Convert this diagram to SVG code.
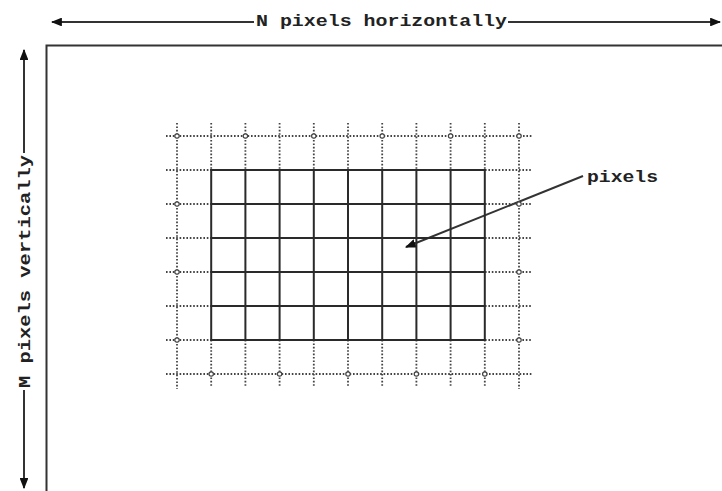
<svg xmlns="http://www.w3.org/2000/svg" width="722" height="491" viewBox="0 0 722 491">
<style>
.t{font-family:"Liberation Mono","Courier New",monospace;font-size:17px;font-weight:bold;fill:#222}
.dim{stroke:#333;stroke-width:2;fill:none}
.solid{stroke:#2a2a2a;stroke-width:2;fill:none}
.dot{stroke:#444;stroke-width:1.8;stroke-dasharray:1.6 1.8;fill:none}
.c{fill:#fff;stroke:#444;stroke-width:1.2}
</style>
<defs>
<marker id="ah" viewBox="0 0 10 8" refX="9" refY="4" markerWidth="5.5" markerHeight="4.4" orient="auto" markerUnits="strokeWidth">
<path d="M0,0 L10,4 L0,8 Z" fill="#111"/>
</marker>
</defs>
<rect width="722" height="491" fill="#fff"/>
<g id="frame">
<path class="dim" d="M46.5,491 V45.5 H730"/>
</g>
<g id="connectors">
<line class="dim" x1="254" y1="22" x2="52" y2="22" marker-end="url(#ah)"/>
<line class="dim" x1="508" y1="22" x2="720" y2="22" marker-end="url(#ah)"/>
<line class="dim" x1="24" y1="153" x2="24" y2="50" marker-end="url(#ah)"/>
<line class="dim" x1="24" y1="390" x2="24" y2="488" marker-end="url(#ah)"/>
<line class="dim" x1="583" y1="176" x2="406" y2="247" marker-end="url(#ah)"/>
</g>
<g id="label-horizontal">
<text class="t" x="256" y="26" textLength="251" lengthAdjust="spacingAndGlyphs">N pixels horizontally</text>
</g>
<g id="label-vertical">
<text class="t" transform="translate(30,388) rotate(-90)" x="0" y="0" textLength="233" lengthAdjust="spacingAndGlyphs">M pixels vertically</text>
</g>
<g id="label-pixels">
<text class="t" x="587" y="182" textLength="71" lengthAdjust="spacingAndGlyphs">pixels</text>
</g>
<g id="dotted-grid">
<path class="dot" d="M177,123 V389 M519,123 V389
M211.2,123 V170 M245.4,123 V170 M279.6,123 V170 M313.8,123 V170 M348,123 V170 M382.2,123 V170 M416.4,123 V170 M450.6,123 V170 M484.8,123 V170
M211.2,340 V386 M245.4,340 V386 M279.6,340 V386 M313.8,340 V386 M348,340 V386 M382.2,340 V386 M416.4,340 V386 M450.6,340 V386 M484.8,340 V386
M166,136 H532 M166,374 H532
M166,170 H211 M166,204 H211 M166,238 H211 M166,272 H211 M166,306 H211 M166,340 H211
M485,170 H532 M485,204 H532 M485,238 H532 M485,272 H532 M485,306 H532 M485,340 H532"/>
<g>
<circle class="c" cx="177" cy="136" r="2.2"/>
<circle class="c" cx="245.4" cy="136" r="2.2"/>
<circle class="c" cx="313.8" cy="136" r="2.2"/>
<circle class="c" cx="382.2" cy="136" r="2.2"/>
<circle class="c" cx="450.6" cy="136" r="2.2"/>
<circle class="c" cx="519" cy="136" r="2.2"/>
<circle class="c" cx="177" cy="204" r="2.2"/>
<circle class="c" cx="177" cy="272" r="2.2"/>
<circle class="c" cx="177" cy="340" r="2.2"/>
<circle class="c" cx="519" cy="204" r="2.2"/>
<circle class="c" cx="519" cy="272" r="2.2"/>
<circle class="c" cx="519" cy="340" r="2.2"/>
<circle class="c" cx="211.2" cy="374" r="2.2"/>
<circle class="c" cx="279.6" cy="374" r="2.2"/>
<circle class="c" cx="348" cy="374" r="2.2"/>
<circle class="c" cx="416.4" cy="374" r="2.2"/>
<circle class="c" cx="484.8" cy="374" r="2.2"/>
</g>
</g>
<g id="pixel-grid">
<rect class="solid" x="211.2" y="170" width="273.6" height="170"/>
<path class="solid" d="M245.4,170 V340 M279.6,170 V340 M313.8,170 V340 M348,170 V340 M382.2,170 V340 M416.4,170 V340 M450.6,170 V340
M211.2,204 H484.8 M211.2,238 H484.8 M211.2,272 H484.8 M211.2,306 H484.8"/>
</g>
</svg>
